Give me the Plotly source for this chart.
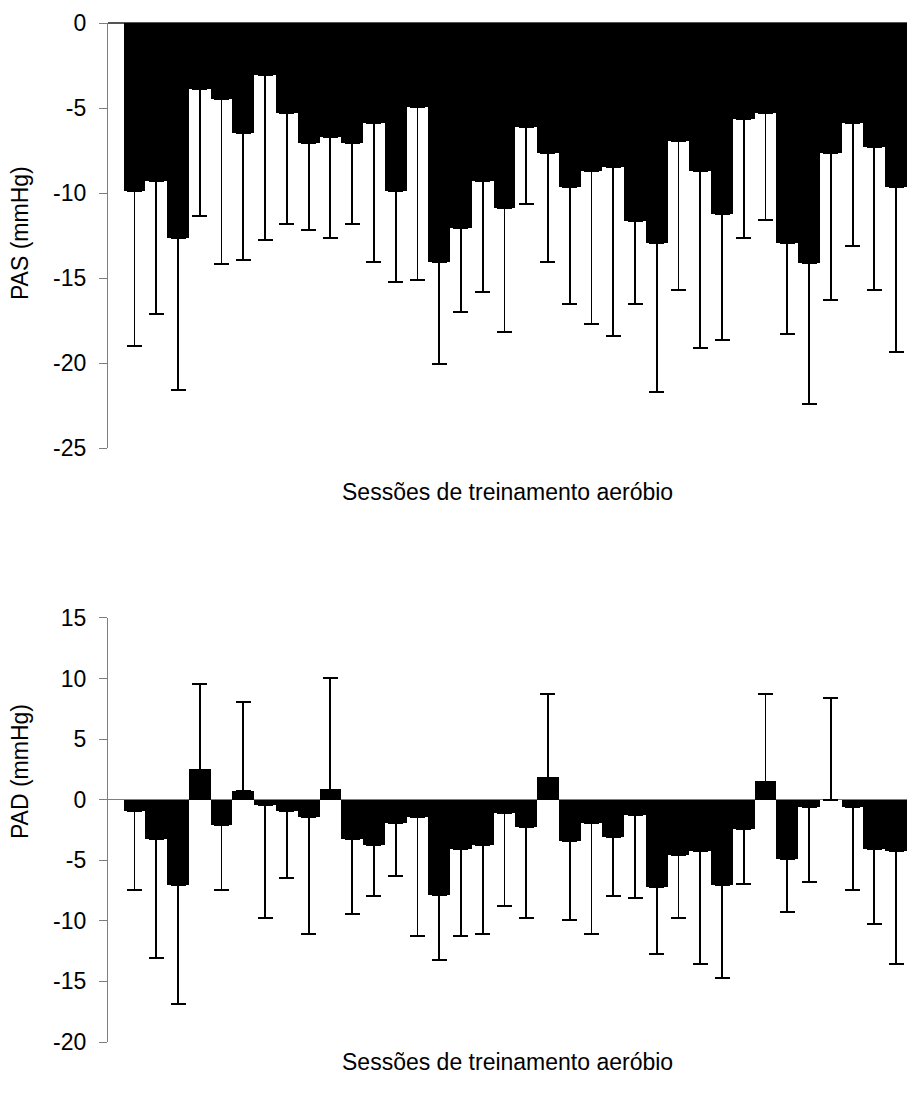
import plotly.graph_objects as go
from plotly.subplots import make_subplots

# Sessions 1..36 of aerobic training
sessions = list(range(1, 37))

# Systolic pressure change (PAS, mmHg): mean and lower end of the SD bar
pas_mean = [-9.86, -9.29, -12.67, -3.88, -4.47, -6.45, -3.06, -5.29, -7.04, -6.69,
            -7.04, -5.88, -9.86, -4.94, -14.08, -12.08, -9.29, -10.90, -6.12, -7.65,
            -9.65, -8.71, -8.47, -11.63, -12.92, -6.94, -8.71, -11.25, -5.65, -5.29,
            -12.92, -14.10, -7.65, -5.88, -7.29, -9.63]
pas_low = [-18.98, -17.12, -21.59, -11.33, -14.18, -13.94, -12.76, -11.80, -12.18, -12.65,
           -11.80, -14.04, -15.22, -15.12, -20.04, -17.00, -15.82, -18.18, -10.65, -14.04,
           -16.53, -17.71, -18.41, -16.53, -21.71, -15.69, -19.12, -18.65, -12.65, -11.59,
           -18.29, -22.41, -16.29, -13.12, -15.69, -19.35]

# Diastolic pressure change (PAD, mmHg): mean and far end of the SD bar
pad_mean = [-0.92, -3.25, -7.02, 2.50, -2.06, 0.69, -0.41, -0.93, -1.43, 0.85,
            -3.25, -3.74, -1.93, -1.43, -7.85, -4.07, -3.74, -1.10, -2.26, 1.84,
            -3.41, -1.93, -3.08, -1.27, -7.21, -4.57, -4.24, -7.05, -2.42, 1.51,
            -4.90, -0.60, 0.00, -0.60, -4.07, -4.24]
pad_end = [-7.43, -13.07, -16.87, 9.55, -7.43, 8.09, -9.77, -6.47, -11.09, 10.05,
           -9.44, -7.95, -6.30, -11.23, -13.24, -11.23, -11.09, -8.80, -9.74, 8.72,
           -9.94, -11.09, -7.95, -8.12, -12.75, -9.74, -13.57, -14.73, -6.96, 8.72,
           -9.28, -6.80, 8.40, -7.46, -10.27, -13.57]

# Axis ticks (labels use a plain hyphen for negatives)
pas_ticks = [0, -5, -10, -15, -20, -25]
pad_ticks = [15, 10, 5, 0, -5, -10, -15, -20]

y_title_pas = "PAS (mmHg)"
y_title_pad = "PAD (mmHg)"
x_title = "Sessões de treinamento aeróbio"

FONT = "Liberation Sans, Arial, sans-serif"
AXIS_GREY = "#7f7f7f"

fig = make_subplots(rows=2, cols=1, vertical_spacing=0.0)

# One-sided SD bars: they point away from zero
pas_minus = [m - lo for m, lo in zip(pas_mean, pas_low)]
pas_plus = [0.0] * len(pas_mean)

pad_plus = [max(e - m, 0.0) for m, e in zip(pad_mean, pad_end)]
pad_minus = [max(m - e, 0.0) for m, e in zip(pad_mean, pad_end)]

err_style = dict(type="data", symmetric=False, color="black", thickness=1.8, width=7.5)

fig.add_trace(go.Bar(
    x=sessions, y=pas_mean, width=1.0,
    marker=dict(color="black", line=dict(width=0)),
    error_y=dict(array=pas_plus, arrayminus=pas_minus, **err_style),
    showlegend=False,
), row=1, col=1)

fig.add_trace(go.Bar(
    x=sessions, y=pad_mean, width=1.0,
    marker=dict(color="black", line=dict(width=0)),
    error_y=dict(array=pad_plus, arrayminus=pad_minus, **err_style),
    showlegend=False,
), row=2, col=1)

xrange = [-0.22, 36.5]
for r in (1, 2):
    fig.update_xaxes(range=xrange, showticklabels=False, ticks="", showgrid=False,
                     zeroline=False, showline=False, row=r, col=1)

tickfont = dict(family=FONT, size=23, color="black")
titlefont = dict(family=FONT, size=23, color="black")


def hyphen_labels(vals):
    return [str(v) for v in vals]


fig.update_yaxes(range=[-25, 0], tickvals=pas_ticks, ticktext=hyphen_labels(pas_ticks),
                 ticks="outside", ticklen=8, tickcolor=AXIS_GREY, tickwidth=1,
                 showline=True, linecolor=AXIS_GREY, linewidth=1.2,
                 showgrid=False, zeroline=True, zerolinecolor="#555555", zerolinewidth=1.5,
                 tickfont=tickfont, ticklabelstandoff=8,
                 row=1, col=1)
fig.update_yaxes(range=[-20, 15], tickvals=pad_ticks, ticktext=hyphen_labels(pad_ticks),
                 ticks="outside", ticklen=8, tickcolor=AXIS_GREY, tickwidth=1,
                 showline=True, linecolor=AXIS_GREY, linewidth=1.2,
                 showgrid=False, zeroline=True, zerolinecolor=AXIS_GREY, zerolinewidth=1.2,
                 tickfont=tickfont, ticklabelstandoff=8,
                 row=2, col=1)

# Plot-area placement (paper fractions)
fig.update_layout(
    yaxis=dict(domain=[0.5829, 1.0]),
    yaxis2=dict(domain=[0.0, 0.4161]),
)

# Horizontal axis titles under each panel
for ypos, shift in ((0.5829, -44), (0.0, -20)):
    fig.add_annotation(text=x_title, xref="paper", yref="paper",
                       x=0.5, y=ypos, yshift=shift, xanchor="center", yanchor="middle",
                       showarrow=False, font=titlefont)

# Vertical axis titles
for text, ypos in ((y_title_pas, 0.794), (y_title_pad, 0.265)):
    fig.add_annotation(text=text, xref="paper", yref="paper",
                       x=-0.110, y=ypos, xanchor="center", yanchor="middle",
                       textangle=-90, showarrow=False, font=titlefont)

fig.update_layout(
    width=913, height=1097,
    margin=dict(l=108, r=6, t=23, b=55, autoexpand=False),
    paper_bgcolor="white", plot_bgcolor="white",
    bargap=0, font=dict(family=FONT),
)

fig.write_html("out.html")
